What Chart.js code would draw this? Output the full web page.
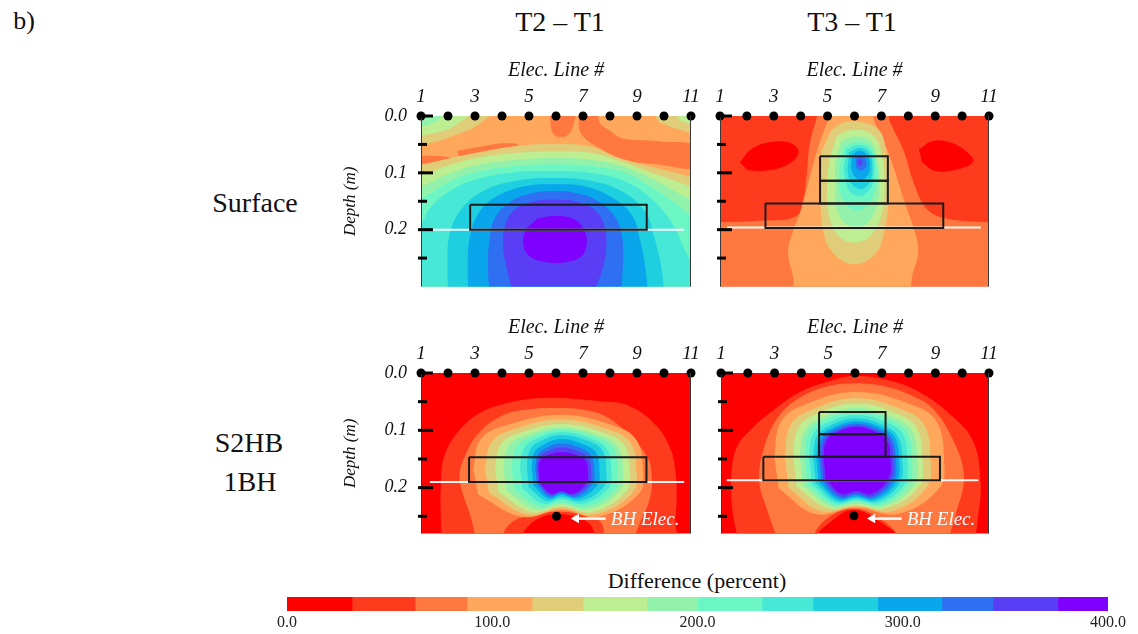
<!DOCTYPE html>
<html>
<head>
<meta charset="utf-8">
<script src="https://cdn.jsdelivr.net/npm/chart.js@4.4.0/dist/chart.umd.min.js"></script>
<style>
  body { margin: 0; background: #fff; width: 1138px; height: 634px; position: relative; overflow: hidden; font-family: "Liberation Serif", serif; color: #111; }
  .txt { position: absolute; white-space: nowrap; transform: translate(-50%, -50%); line-height: 1; }
  canvas { position: absolute; }
</style>
</head>
<body>
<div class="txt" style="left:24px;top:21px;font-size:26px">b)</div>
<div class="txt" style="left:560px;top:22px;font-size:28px">T2 – T1</div>
<div class="txt" style="left:852px;top:22px;font-size:28px">T3 – T1</div>
<div class="txt" style="left:255px;top:203px;font-size:28px">Surface</div>
<div class="txt" style="left:249px;top:443px;font-size:28px">S2HB</div>
<div class="txt" style="left:250px;top:482px;font-size:28px">1BH</div>
<div class="txt" style="left:697px;top:581px;font-size:22px">Difference (percent)</div>

<canvas id="surfT2" width="367" height="233" style="left:336px;top:58px"></canvas>
<canvas id="surfT3" width="366" height="233" style="left:635px;top:58px"></canvas>
<canvas id="bhT2" width="367" height="224" style="left:336px;top:315px"></canvas>
<canvas id="bhT3" width="365" height="224" style="left:636px;top:315px"></canvas>
<canvas id="cbar" width="871" height="38" style="left:267px;top:597px"></canvas>

<script>
// colour classes of the difference (percent)
const levelColors = ["#ff0000", "#ff3b1e", "#ff7840", "#ffa85c", "#dfcd79", "#bdee92", "#92f2ac",
  "#6cf6c4", "#48e8d6", "#1ecfe0", "#0aa6ec", "#2f70f2", "#5a3ef5", "#7f00ff"];
const levelEdges = [0, 31.7, 62.4, 87.7, 119.4, 144.2, 175.4, 200, 231.4, 256.3, 287.9, 319.1, 343.9, 375.6, 400];
const cbarTicks = [0, 100, 200, 300, 400];

const electrodes = [1, 2, 3, 4, 5, 6, 7, 8, 9, 10, 11];
const xTickVals = [1, 3, 5, 7, 9, 11];
const yTickVals = [0, 0.05, 0.1, 0.15, 0.2, 0.25];
const yLabelVals = [0, 0.1, 0.2];

// each band: [colour class, outline as [electrode, depth] points], painted in order
const surfT2Bg = 3;
const surfT2Bands = [
  [2, [[5.75,-0.02],[6.65,-0.02],[6.6,0.02],[6.35,0.035],[5.95,0.033],[5.8,0.015]]],
  [2, [[6.8,-0.02],[7.45,-0.02],[7.6,0.012],[7.95,0.025],[8.45,0.04],[9.7,0.045],[11.5,0.056],[11.5,0.09],[9.7,0.084],[8.45,0.075],[7.45,0.051],[7.0,0.035],[6.85,0.02]]],
  [2, [[2.35,0.062],[3.2,0.055],[4.0,0.049],[4.6,0.051],[4.0,0.058],[3.2,0.066],[2.4,0.07]]],
  [2, [[0.5,0.072],[1.6,0.071],[2.1,0.076],[1.6,0.083],[0.5,0.085]]],
  [4, [[0.5,0.052],[1.5,0.045],[2.3,0.032],[3.1,0.015],[3.8,-0.02],[0.5,-0.02]]],
  [5, [[0.5,0.037],[1.6,0.028],[2.3,0.015],[3.0,-0.02],[0.5,-0.02]]],
  [6, [[0.5,0.021],[1.5,0.01],[2.0,-0.02],[0.5,-0.02]]],
  [7, [[0.5,0.012],[1.4,-0.02],[0.5,-0.02]]],
  [4, [[9.4,-0.02],[11.5,-0.02],[11.5,0.03],[10.5,0.022],[9.8,0.01]]],
  [5, [[10.2,-0.02],[11.5,-0.02],[11.5,0.015],[10.6,0.008]]],
  [4, [[0,0.088],[1,0.086],[2,0.076],[3,0.066],[4.5,0.054],[5.95,0.05],[7.3,0.055],[8.3,0.074],[9.5,0.09],[10.3,0.099],[11,0.107],[12,0.11],[12,0.5],[0,0.5]]],
  [5, [[0,0.108],[1,0.104],[2,0.088],[3,0.075],[4.5,0.066],[5.95,0.063],[7.3,0.066],[8.5,0.082],[9.5,0.1],[10.3,0.113],[11,0.124],[12,0.13],[12,0.5],[0,0.5]]],
  [6, [[0,0.128],[1,0.124],[2,0.103],[3,0.088],[4.5,0.078],[5.95,0.075],[7.3,0.078],[8.5,0.09],[9.5,0.11],[10.3,0.13],[11,0.148],[12,0.16],[12,0.5],[0,0.5]]],
  [7, [[0,0.15],[1,0.145],[2,0.118],[3,0.1],[4.5,0.089],[5.95,0.086],[7.3,0.089],[8.5,0.1],[9.5,0.125],[10.3,0.15],[11,0.176],[12,0.2],[12,0.5],[0,0.5]]],
  [8, [[0,0.21],[1,0.19],[1.3,0.165],[2.0,0.135],[3.0,0.113],[4.5,0.1],[5.95,0.098],[7.3,0.101],[8.5,0.115],[9.5,0.145],[10.3,0.19],[10.8,0.24],[11.2,0.27],[12,0.3],[12,0.5],[0,0.5]]],
  [9, [[2.05,0.33],[2.0,0.27],[2.07,0.21],[2.5,0.165],[3.3,0.133],[4.5,0.115],[5.95,0.11],[7.3,0.115],[8.5,0.135],[9.3,0.17],[9.6,0.21],[9.9,0.27],[10.0,0.33]]],
  [10, [[2.8,0.33],[2.75,0.27],[2.8,0.22],[3.1,0.175],[3.7,0.145],[4.8,0.125],[5.95,0.121],[7.1,0.125],[8.1,0.145],[8.8,0.175],[9.1,0.22],[9.3,0.27],[9.4,0.33]]],
  [11, [[3.6,0.33],[3.5,0.27],[3.55,0.22],[3.75,0.18],[4.3,0.152],[5.1,0.137],[5.95,0.133],[6.8,0.137],[7.6,0.152],[8.2,0.18],[8.45,0.22],[8.45,0.27],[8.35,0.33]]],
  [12, [[4.5,0.32],[4.2,0.27],[4.05,0.225],[4.15,0.19],[4.5,0.165],[5.2,0.151],[5.95,0.148],[6.7,0.151],[7.4,0.165],[7.75,0.19],[7.85,0.225],[7.7,0.27],[7.3,0.32]]],
  [13, [[5.3,0.181],[5.95,0.177],[6.6,0.181],[7.0,0.198],[7.12,0.222],[6.95,0.245],[6.4,0.256],[5.6,0.256],[5.0,0.245],[4.8,0.222],[4.9,0.198]]]
];
const surfT2Boxes = [[2.82, 0.156, 9.36, 0.2]];
const surfT2White = [[1.07, 0.2], [10.74, 0.2]];

const surfT3Bg = 1;
const surfT3Bands = [
  [0, [[1.75,0.082],[2.2,0.058],[3.0,0.046],[3.7,0.05],[3.9,0.065],[3.5,0.085],[2.6,0.096],[2.0,0.094]]],
  [0, [[8.4,0.06],[8.9,0.045],[9.6,0.048],[10.2,0.065],[10.4,0.08],[9.9,0.092],[9.0,0.096],[8.5,0.08]]],
  [2, [[0,0.19],[1,0.188],[2.5,0.185],[3.8,0.178],[4.1,0.15],[4.25,0.1],[4.35,0.05],[4.6,0.006],[4.8,-0.02],[7.1,-0.02],[7.3,0.01],[7.8,0.06],[8.2,0.12],[8.7,0.165],[9.5,0.182],[11,0.188],[12,0.19],[12,0.5],[0,0.5]]],
  [3, [[3.9,0.5],[3.75,0.29],[3.55,0.24],[3.75,0.2],[4.0,0.17],[4.4,0.1],[4.7,0.05],[5.0,0.012],[5.3,-0.02],[6.5,-0.02],[6.74,0.012],[7.2,0.06],[7.5,0.1],[7.9,0.16],[8.2,0.2],[8.35,0.24],[8.1,0.29],[7.9,0.5]]],
  [4, [[5.1,0.028],[5.6,0.012],[6.3,0.012],[6.9,0.025],[7.15,0.06],[7.25,0.1],[7.25,0.15],[7.1,0.2],[6.8,0.24],[6.0,0.26],[5.2,0.24],[4.85,0.2],[4.75,0.15],[4.75,0.1],[4.8,0.06]]],
  [5, [[5.35,0.035],[6.0,0.025],[6.7,0.035],[7.0,0.07],[7.1,0.12],[7.0,0.17],[6.6,0.21],[6.0,0.222],[5.4,0.21],[5.05,0.17],[5.0,0.12],[5.1,0.07]]],
  [6, [[5.5,0.045],[6.0,0.037],[6.6,0.045],[6.85,0.08],[6.9,0.12],[6.8,0.16],[6.4,0.19],[5.9,0.195],[5.4,0.17],[5.3,0.12],[5.3,0.08]]],
  [7, [[5.6,0.055],[6.1,0.047],[6.6,0.055],[6.8,0.09],[6.75,0.13],[6.4,0.16],[5.9,0.163],[5.5,0.135],[5.45,0.09]]],
  [8, [[5.7,0.06],[6.15,0.052],[6.6,0.062],[6.72,0.09],[6.6,0.125],[6.2,0.14],[5.8,0.13],[5.6,0.095]]],
  [9, [[5.8,0.065],[6.2,0.057],[6.55,0.068],[6.65,0.095],[6.5,0.12],[6.2,0.128],[5.85,0.115],[5.75,0.09]]],
  [10, [[5.9,0.07],[6.2,0.062],[6.5,0.072],[6.55,0.095],[6.35,0.11],[6.05,0.108],[5.88,0.09]]],
  [11, [[6.05,0.075],[6.25,0.07],[6.42,0.08],[6.38,0.092],[6.2,0.095],[6.05,0.088]]],
  [12, [[6.12,0.079],[6.24,0.077],[6.26,0.085],[6.15,0.087]]]
];
const surfT3Boxes = [[2.69, 0.154, 9.3, 0.197], [4.72, 0.071, 7.24, 0.114], [4.72, 0.114, 7.24, 0.154]];
const surfT3White = [[1.26, 0.196], [10.7, 0.196]];

const bhT2Bg = 0;
const bhT2Bands = [
  [1, [[1.8,0.3],[1.75,0.25],[1.75,0.2],[1.85,0.15],[2.33,0.106],[3.13,0.072],[4.06,0.055],[5.05,0.046],[6.0,0.044],[6.66,0.046],[7.6,0.05],[8.65,0.057],[9.64,0.089],[10.2,0.13],[10.4,0.17],[10.45,0.221],[10.4,0.26],[10.4,0.3],[7.65,0.3],[7.3,0.265],[6.7,0.25],[6.04,0.245],[5.4,0.252],[4.9,0.27],[4.5,0.3]]],
  [2, [[3.1,0.3],[2.85,0.25],[2.5,0.2],[2.45,0.175],[2.6,0.15],[3.13,0.106],[4.06,0.074],[5.05,0.064],[6.1,0.062],[7.0,0.065],[7.9,0.078],[8.9,0.118],[9.4,0.15],[9.51,0.17],[9.5,0.21],[9.2,0.25],[8.6,0.3],[7.9,0.3],[7.7,0.262],[7.1,0.248],[6.05,0.241],[5.0,0.248],[4.3,0.262],[3.8,0.3]]],
  [3, [[2.95,0.17],[3.21,0.117],[4.09,0.093],[6.2,0.074],[8.15,0.093],[8.96,0.117],[9.2,0.17],[9.05,0.211],[7.55,0.25],[6.2,0.238],[4.74,0.25],[3.11,0.211]]],
  [4, [[3.38,0.17],[3.61,0.122],[4.37,0.1],[6.2,0.082],[7.99,0.1],[8.74,0.122],[8.96,0.17],[8.82,0.209],[7.44,0.246],[6.2,0.235],[4.93,0.246],[3.52,0.209]]],
  [5, [[3.75,0.17],[3.95,0.126],[4.61,0.106],[6.2,0.09],[7.83,0.106],[8.51,0.126],[8.71,0.17],[8.58,0.207],[7.33,0.242],[6.2,0.232],[5.1,0.242],[3.87,0.207]]],
  [6, [[4.06,0.17],[4.23,0.129],[4.81,0.111],[6.2,0.096],[7.67,0.111],[8.28,0.129],[8.46,0.17],[8.35,0.205],[7.22,0.237],[6.2,0.228],[5.24,0.237],[4.17,0.205]]],
  [7, [[4.37,0.17],[4.52,0.132],[5.01,0.114],[6.2,0.1],[7.55,0.114],[8.1,0.132],[8.27,0.17],[8.17,0.203],[7.13,0.232],[6.2,0.225],[5.38,0.232],[4.46,0.203]]],
  [8, [[4.68,0.17],[4.8,0.134],[5.21,0.117],[6.2,0.104],[7.39,0.117],[7.88,0.134],[8.03,0.17],[7.94,0.2],[7.02,0.227],[6.2,0.22],[5.52,0.227],[4.76,0.2]]],
  [9, [[4.93,0.17],[5.03,0.136],[5.37,0.121],[6.2,0.109],[7.27,0.121],[7.71,0.136],[7.84,0.17],[7.76,0.198],[6.94,0.222],[6.2,0.216],[5.63,0.222],[4.99,0.198]]],
  [10, [[5.11,0.17],[5.2,0.14],[5.49,0.127],[6.2,0.116],[7.1,0.127],[7.48,0.14],[7.59,0.17],[7.52,0.195],[6.83,0.218],[6.2,0.212],[5.71,0.218],[5.16,0.195]]],
  [11, [[5.24,0.17],[5.32,0.145],[5.58,0.133],[6.2,0.124],[6.98,0.133],[7.3,0.145],[7.4,0.17],[7.34,0.193],[6.74,0.215],[6.2,0.209],[5.77,0.215],[5.29,0.193]]],
  [12, [[5.3,0.17],[5.37,0.149],[5.62,0.139],[6.2,0.131],[6.9,0.139],[7.19,0.149],[7.28,0.17],[7.23,0.192],[6.69,0.212],[6.2,0.207],[5.8,0.212],[5.35,0.192]]],
  [13, [[5.36,0.17],[5.43,0.153],[5.65,0.145],[6.2,0.139],[6.82,0.145],[7.08,0.153],[7.16,0.17],[7.11,0.191],[6.63,0.21],[6.2,0.205],[5.82,0.21],[5.4,0.191]]]
];
const bhT2Boxes = [[2.78, 0.147, 9.35, 0.19]];
const bhT2White = [[1.33, 0.19], [10.75, 0.19]];
const bhT2Elec = [[6.02, 0.25]];
const bhT2Arrow = [[7.84, 0.254], [6.75, 0.254]];
const bhT2Label = [8.03, 0.256];

const bhT3Bg = 0;
const bhT3Bands = [
  [1, [[1.7,0.3],[1.45,0.24],[1.4,0.18],[1.6,0.13],[2.1,0.1],[2.7,0.075],[3.95,0.034],[5.2,0.013],[5.95,0.006],[7.2,0.013],[8.4,0.034],[9.67,0.078],[10.4,0.12],[10.65,0.18],[10.6,0.24],[10.2,0.3],[8.3,0.3],[7.3,0.27],[6.0,0.238],[5.0,0.262],[4.2,0.3]]],
  [2, [[3.2,0.3],[2.75,0.24],[2.45,0.19],[2.58,0.138],[3.1,0.08],[3.9,0.045],[5.0,0.024],[6.0,0.019],[7.1,0.024],[8.1,0.04],[8.9,0.063],[9.67,0.12],[10.04,0.178],[9.8,0.236],[9.2,0.3],[8.0,0.3],[7.2,0.262],[6.0,0.236],[4.9,0.255],[4.2,0.3]]],
  [3, [[3.0,0.15],[3.24,0.086],[4.07,0.057],[6.05,0.034],[8.16,0.057],[9.04,0.086],[9.3,0.15],[9.14,0.2],[7.6,0.245],[6.05,0.234],[4.5,0.245],[3.15,0.2]]],
  [4, [[3.39,0.15],[3.6,0.092],[4.32,0.066],[6.05,0.045],[7.84,0.066],[8.58,0.092],[8.8,0.15],[8.66,0.199],[7.4,0.24],[6.05,0.232],[4.7,0.24],[3.52,0.199]]],
  [5, [[3.7,0.15],[3.89,0.097],[4.52,0.073],[6.05,0.054],[7.64,0.073],[8.3,0.097],[8.5,0.15],[8.38,0.198],[7.15,0.235],[6.05,0.23],[4.99,0.235],[3.82,0.198]]],
  [6, [[3.95,0.15],[4.12,0.102],[4.69,0.08],[6.05,0.062],[7.51,0.08],[8.12,0.102],[8.3,0.15],[8.19,0.196],[7.06,0.232],[6.05,0.227],[5.1,0.232],[4.06,0.196]]],
  [7, [[4.13,0.15],[4.28,0.105],[4.8,0.084],[6.05,0.068],[7.38,0.084],[7.94,0.105],[8.1,0.15],[8.0,0.194],[6.97,0.229],[6.05,0.224],[5.19,0.229],[4.23,0.194]]],
  [8, [[4.3,0.15],[4.44,0.108],[4.91,0.089],[6.05,0.074],[7.27,0.089],[7.78,0.108],[7.93,0.15],[7.84,0.193],[6.9,0.226],[6.05,0.221],[5.26,0.226],[4.39,0.193]]],
  [9, [[4.45,0.15],[4.58,0.112],[5.01,0.094],[6.05,0.08],[7.15,0.094],[7.6,0.112],[7.74,0.15],[7.66,0.191],[6.81,0.223],[6.05,0.218],[5.33,0.223],[4.53,0.191]]],
  [10, [[4.57,0.15],[4.69,0.114],[5.09,0.098],[6.05,0.085],[7.07,0.098],[7.49,0.114],[7.62,0.15],[7.54,0.189],[6.76,0.22],[6.05,0.215],[5.38,0.22],[4.64,0.189]]],
  [11, [[4.67,0.15],[4.78,0.116],[5.15,0.101],[6.05,0.089],[6.99,0.101],[7.38,0.116],[7.5,0.15],[7.43,0.187],[6.7,0.217],[6.05,0.212],[5.43,0.217],[4.74,0.187]]],
  [12, [[4.76,0.15],[4.86,0.118],[5.21,0.104],[6.05,0.092],[6.93,0.104],[7.29,0.118],[7.4,0.15],[7.33,0.185],[6.66,0.214],[6.05,0.209],[5.47,0.214],[4.82,0.185]]],
  [13, [[4.84,0.15],[4.94,0.12],[5.26,0.106],[6.05,0.095],[6.86,0.106],[7.2,0.12],[7.3,0.15],[7.24,0.183],[6.61,0.21],[6.05,0.205],[5.5,0.21],[4.9,0.183]]]
];
const bhT3Boxes = [[2.58, 0.146, 9.17, 0.187], [4.66, 0.068, 7.14, 0.107], [4.66, 0.107, 7.14, 0.146]];
const bhT3White = [[1.21, 0.187], [10.6, 0.187]];
const bhT3Elec = [[5.96, 0.249]];
const bhT3Arrow = [[7.74, 0.254], [6.65, 0.254]];
const bhT3Label = [7.93, 0.256];

Chart.defaults.font.family = "'Liberation Serif', 'Times New Roman', serif";
Chart.defaults.color = "#111";

function toPts(list) {
  return list.map(p => ({ x: p[0], y: p[1] }));
}

// keep the plot area exactly where the axis boxes say
function fixBox(s, size) {
  if (s.isHorizontal()) s.height = size; else s.width = size;
  s.paddingTop = 0;
  s.paddingBottom = 0;
  s.paddingLeft = 0;
  s.paddingRight = 0;
}

const panelDecor = {
  id: "panelDecor",
  beforeDatasetsDraw(chart, args, o) {
    const a = chart.chartArea, ctx = chart.ctx;
    ctx.save();
    ctx.fillStyle = levelColors[o.bg];
    ctx.fillRect(a.left, a.top, a.right - a.left, a.bottom - a.top);
    ctx.restore();
  },
  afterDatasetsDraw(chart, args, o) {
    const a = chart.chartArea, ctx = chart.ctx;
    const xs = chart.scales.x, ys = chart.scales.y;
    ctx.save();
    ctx.strokeStyle = "#3a3a3a";
    ctx.lineWidth = 1;
    ctx.beginPath();
    ctx.moveTo(a.left + 0.5, a.top);
    ctx.lineTo(a.left + 0.5, a.bottom);
    ctx.moveTo(a.right - 0.5, a.top);
    ctx.lineTo(a.right - 0.5, a.bottom);
    ctx.stroke();
    // depth tick dashes sit just inside the left edge
    ctx.strokeStyle = "#000";
    ctx.lineWidth = 3;
    yTickVals.forEach(v => {
      const py = ys.getPixelForValue(v);
      const len = yLabelVals.includes(v) ? 12 : 6;
      ctx.beginPath();
      ctx.moveTo(a.left - 3, py);
      ctx.lineTo(a.left + len, py);
      ctx.stroke();
    });
    if (o.label) {
      ctx.fillStyle = "#fff";
      ctx.font = "italic 19px 'Liberation Serif', serif";
      ctx.textBaseline = "middle";
      ctx.fillText("BH Elec.", xs.getPixelForValue(o.label[0]), ys.getPixelForValue(o.label[1]));
    }
    ctx.restore();
  }
};

function makePanel(id, p) {
  const datasets = [];
  p.bands.forEach((b, i) => {
    datasets.push({
      data: toPts(b[1]),
      backgroundColor: levelColors[b[0]],
      borderColor: levelColors[b[0]],
      borderWidth: 1,
      fill: "shape",
      tension: 0.4,
      pointRadius: 0,
      order: 1000 - i
    });
  });
  datasets.push({
    data: toPts(p.white), borderColor: "rgba(255,255,255,0.95)", borderWidth: 2,
    fill: false, tension: 0, pointRadius: 0, order: 40
  });
  p.boxes.forEach(r => {
    datasets.push({
      data: toPts([[r[0], r[1]], [r[2], r[1]], [r[2], r[3]], [r[0], r[3]], [r[0], r[1]]]),
      borderColor: "#1b1b1b", borderWidth: 2, borderJoinStyle: "miter",
      fill: false, tension: 0, pointRadius: 0, order: 30
    });
  });
  if (p.arrow) {
    datasets.push({
      data: toPts(p.arrow), borderColor: "#fff", borderWidth: 2.5, fill: false, tension: 0,
      pointRadius: [0, 5.5], pointStyle: "triangle", pointRotation: 270,
      pointBackgroundColor: "#fff", pointBorderColor: "#fff", pointBorderWidth: 0, clip: false, order: 20
    });
    datasets.push({
      data: toPts(p.bhElec), showLine: false, pointRadius: 4.5,
      pointBackgroundColor: "#000", pointBorderWidth: 0, clip: false, order: 15
    });
  }
  datasets.push({
    data: electrodes.map(e => ({ x: e, y: 0 })), showLine: false, pointRadius: 4.5,
    pointBackgroundColor: "#000", pointBorderWidth: 0, clip: false, order: 10
  });

  new Chart(document.getElementById(id), {
    type: "line",
    data: { datasets: datasets },
    plugins: [panelDecor],
    options: {
      responsive: false,
      animation: false,
      events: [],
      layout: { padding: { right: 12, bottom: 4 } },
      elements: { line: { capBezierPoints: false } },
      plugins: {
        legend: { display: false },
        tooltip: { enabled: false },
        panelDecor: { bg: p.bg, label: p.label }
      },
      scales: {
        x: {
          type: "linear", position: "top", min: 1, max: 11,
          afterBuildTicks: s => { s.ticks = xTickVals.map(v => ({ value: v })); },
          afterFit: s => fixBox(s, 58),
          grid: { display: false, drawTicks: false },
          border: { display: false },
          ticks: { font: { size: 19, style: "italic" }, padding: 8, maxRotation: 0, autoSkip: false },
          title: { display: true, text: "Elec. Line #", font: { size: 20, style: "italic" }, padding: { top: 1, bottom: 0 } }
        },
        y: {
          type: "linear", reverse: true, min: 0, max: p.yMax,
          afterBuildTicks: s => { s.ticks = yTickVals.map(v => ({ value: v })); },
          afterFit: s => fixBox(s, 85),
          grid: { display: false, drawTicks: false },
          border: { display: false },
          ticks: {
            font: { size: 18, style: "italic" }, padding: 14, autoSkip: false,
            callback: v => (p.showLabels && yLabelVals.includes(v)) ? v.toFixed(1) : ""
          },
          title: { display: p.showLabels, text: "Depth (m)", font: { size: 17, style: "italic" }, padding: { top: 4, bottom: 0 } }
        }
      }
    }
  });
}

makePanel("surfT2", { bands: surfT2Bands, bg: surfT2Bg, boxes: surfT2Boxes, white: surfT2White, yMax: 0.3, showLabels: true });
makePanel("surfT3", { bands: surfT3Bands, bg: surfT3Bg, boxes: surfT3Boxes, white: surfT3White, yMax: 0.3, showLabels: false });
makePanel("bhT2", { bands: bhT2Bands, bg: bhT2Bg, boxes: bhT2Boxes, white: bhT2White, yMax: 0.28, showLabels: true,
  arrow: bhT2Arrow, bhElec: bhT2Elec, label: bhT2Label });
makePanel("bhT3", { bands: bhT3Bands, bg: bhT3Bg, boxes: bhT3Boxes, white: bhT3White, yMax: 0.28, showLabels: false,
  arrow: bhT3Arrow, bhElec: bhT3Elec, label: bhT3Label });

// colour bar
new Chart(document.getElementById("cbar"), {
  type: "bar",
  data: {
    labels: [""],
    datasets: levelColors.map((c, i) => ({
      data: [[levelEdges[i], levelEdges[i + 1]]],
      backgroundColor: c,
      borderWidth: 0,
      barPercentage: 1,
      categoryPercentage: 1,
      grouped: false
    }))
  },
  options: {
    indexAxis: "y",
    responsive: false,
    animation: false,
    events: [],
    layout: { padding: { left: 20, right: 30 } },
    plugins: { legend: { display: false }, tooltip: { enabled: false } },
    scales: {
      x: {
        type: "linear", min: 0, max: 400,
        afterBuildTicks: s => { s.ticks = cbarTicks.map(v => ({ value: v })); },
        afterFit: s => fixBox(s, 24),
        grid: { display: false, drawTicks: false },
        border: { display: false },
        ticks: { callback: v => v.toFixed(1), font: { size: 16 }, color: "#222", padding: 2, maxRotation: 0, autoSkip: false }
      },
      y: { display: false }
    }
  }
});
</script>
</body>
</html>
